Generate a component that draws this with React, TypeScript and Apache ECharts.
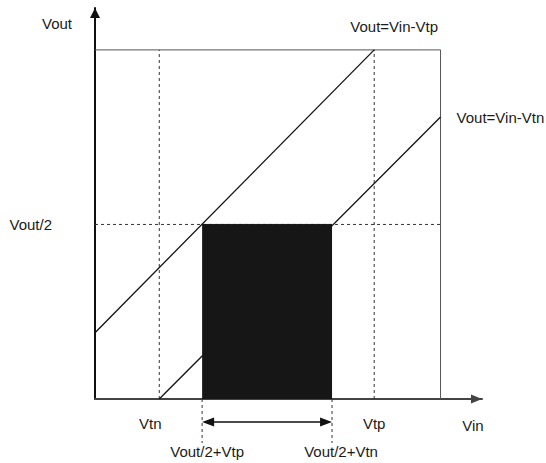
import React, { useEffect, useRef } from 'react';
import * as echarts from 'echarts';

// ---- chart values (data units: volts, VDD = 5) ----
const VDD = 5;
const VOUT_HALF = 2.5;
const axisMax = 5.6;
const xTickValues = [0.93, 4.04];
const xTickLabels = ['Vtn', 'Vtp'];
const yTickValues = [2.5];
const yTickLabels = ['Vout/2'];
const axisNames = ['Vin', 'Vout'];
const lineVtp = [[0, 0.95], [4.04, 5]];
const lineVtn = [[0.93, 0], [5, 4.04]];
const shadedRange = [1.55, 3.43];
const lineLabels = ['Vout=Vin-Vtp', 'Vout=Vin-Vtn'];
const edgeLabels = ['Vout/2+Vtp', 'Vout/2+Vtn'];

const FONT = '"Liberation Sans", Arial, sans-serif';
const TEXT_COLOR = '#1a1a1a';

export default function App() {
  const ref = useRef<HTMLDivElement>(null);

  useEffect(() => {
    if (!ref.current) return;
    const chart = echarts.init(ref.current, null, { renderer: 'svg' });

    const dashStyle = { color: '#333', width: 1, type: [3, 3] as any };
    const plain = { symbol: 'none', silent: true };

    const option: any = {
      animation: false,
      backgroundColor: '#ffffff',
      grid: { left: 95, right: 64, top: 8, bottom: 64, containLabel: false, outerBoundsMode: 'none' },
      xAxis: {
        type: 'value',
        min: 0,
        max: axisMax,
        splitLine: { show: false },
        axisTick: { show: false },
        axisLine: {
          onZero: false,
          lineStyle: { color: '#444', width: 2 },
          symbol: ['none', 'triangle'],
          symbolSize: [9, 11],
          symbolOffset: [0, -5.5],
        },
        axisLabel: {
          customValues: xTickValues,
          formatter: (v: number) => {
            const i = xTickValues.findIndex((t) => Math.abs(t - v) < 1e-6);
            return i === 0 ? '{l|' + xTickLabels[0] + '}' : '{c|' + (xTickLabels[i] ?? '') + '}';
          },
          margin: 17,
          fontSize: 15,
          fontFamily: FONT,
          color: TEXT_COLOR,
          rich: {
            l: { fontSize: 15, fontFamily: FONT, color: TEXT_COLOR, padding: [0, 18, 0, 0] },
            c: { fontSize: 15, fontFamily: FONT, color: TEXT_COLOR },
          },
        },
        name: axisNames[0],
        nameLocation: 'end',
        nameGap: -9,
        nameTextStyle: {
          fontSize: 15,
          fontFamily: FONT,
          color: TEXT_COLOR,
          align: 'center',
          verticalAlign: 'top',
          padding: [19, 0, 0, 0],
        },
      },
      yAxis: {
        type: 'value',
        min: 0,
        max: axisMax,
        splitLine: { show: false },
        axisTick: { show: false },
        axisLine: {
          onZero: false,
          lineStyle: { color: '#111', width: 2 },
          symbol: ['none', 'triangle'],
          symbolSize: [10, 10],
          symbolOffset: [0, -5],
        },
        axisLabel: {
          customValues: yTickValues,
          formatter: (v: number) => {
            const i = yTickValues.findIndex((t) => Math.abs(t - v) < 1e-6);
            return yTickLabels[i] ?? '';
          },
          margin: 43,
          fontSize: 15,
          fontFamily: FONT,
          color: TEXT_COLOR,
        },
        name: axisNames[1],
        nameLocation: 'end',
        nameGap: -15,
        nameTextStyle: {
          fontSize: 15,
          fontFamily: FONT,
          color: TEXT_COLOR,
          align: 'right',
          verticalAlign: 'middle',
          padding: [0, 23, 0, 0],
        },
      },
      series: [
        {
          type: 'line',
          name: 'VDD box',
          ...plain,
          data: [[0, VDD], [VDD, VDD], [VDD, 0]],
          lineStyle: { color: '#555', width: 1 },
        },
        {
          type: 'line',
          name: 'Vtn guide',
          ...plain,
          data: [[xTickValues[0], 0], [xTickValues[0], VDD]],
          lineStyle: dashStyle,
        },
        {
          type: 'line',
          name: 'Vtp guide',
          ...plain,
          data: [[xTickValues[1], 0], [xTickValues[1], VDD]],
          lineStyle: dashStyle,
        },
        {
          type: 'line',
          name: 'Vout/2 guide',
          ...plain,
          data: [[0, VOUT_HALF], [VDD, VOUT_HALF]],
          lineStyle: dashStyle,
        },
        {
          type: 'line',
          name: lineLabels[0],
          ...plain,
          data: lineVtp,
          lineStyle: { color: '#111', width: 1.3 },
        },
        {
          type: 'line',
          name: lineLabels[1],
          ...plain,
          data: lineVtn,
          lineStyle: { color: '#111', width: 1.3 },
        },
        {
          type: 'line',
          name: 'region',
          ...plain,
          z: 5,
          data: [[shadedRange[0], VOUT_HALF], [shadedRange[1], VOUT_HALF]],
          lineStyle: { color: '#161616', width: 1 },
          areaStyle: { color: '#161616', opacity: 1 },
        },
        {
          type: 'custom',
          name: 'annotations',
          silent: true,
          clip: false,
          z: 6,
          data: [[shadedRange[0], 0]],
          encode: { x: 0, y: 1 },
          renderItem: (_params: any, api: any) => {
            const l0 = api.coord([shadedRange[0], 0]);
            const r0 = api.coord([shadedRange[1], 0]);
            const e1 = api.coord(lineVtp[1]);
            const e2 = api.coord(lineVtn[1]);
            const ay = l0[1] + 23;
            const dash = { stroke: '#333', lineWidth: 1, lineDash: [3, 3] };
            const txt = (text: string, x: number, y: number, align: string) => ({
              type: 'text',
              x,
              y,
              style: {
                text,
                fill: TEXT_COLOR,
                fontSize: 15,
                fontFamily: FONT,
                align,
                verticalAlign: 'middle',
              },
            });
            return {
              type: 'group',
              children: [
                { type: 'line', shape: { x1: l0[0], y1: l0[1], x2: l0[0], y2: l0[1] + 44 }, style: dash },
                { type: 'line', shape: { x1: r0[0], y1: r0[1], x2: r0[0], y2: r0[1] + 44 }, style: dash },
                {
                  type: 'line',
                  shape: { x1: l0[0] + 8, y1: ay, x2: r0[0] - 8, y2: ay },
                  style: { stroke: '#111', lineWidth: 1.3 },
                },
                {
                  type: 'polygon',
                  shape: { points: [[l0[0], ay], [l0[0] + 12, ay - 4.5], [l0[0] + 12, ay + 4.5]] },
                  style: { fill: '#111' },
                },
                {
                  type: 'polygon',
                  shape: { points: [[r0[0], ay], [r0[0] - 12, ay - 4.5], [r0[0] - 12, ay + 4.5]] },
                  style: { fill: '#111' },
                },
                txt(lineLabels[0], e1[0] + 20, e1[1] - 23, 'center'),
                txt(lineLabels[1], e2[0] + 16, e2[1] + 1, 'left'),
                txt(edgeLabels[0], l0[0] + 5, l0[1] + 52, 'center'),
                txt(edgeLabels[1], r0[0] + 9, r0[1] + 52, 'center'),
              ],
            };
          },
        },
      ],
    };

    chart.setOption(option);
    return () => chart.dispose();
  }, []);

  return (
    <div
      ref={ref}
      style={{ position: 'fixed', left: 0, top: 0, width: 546, height: 463, background: '#fff' }}
    />
  );
}
